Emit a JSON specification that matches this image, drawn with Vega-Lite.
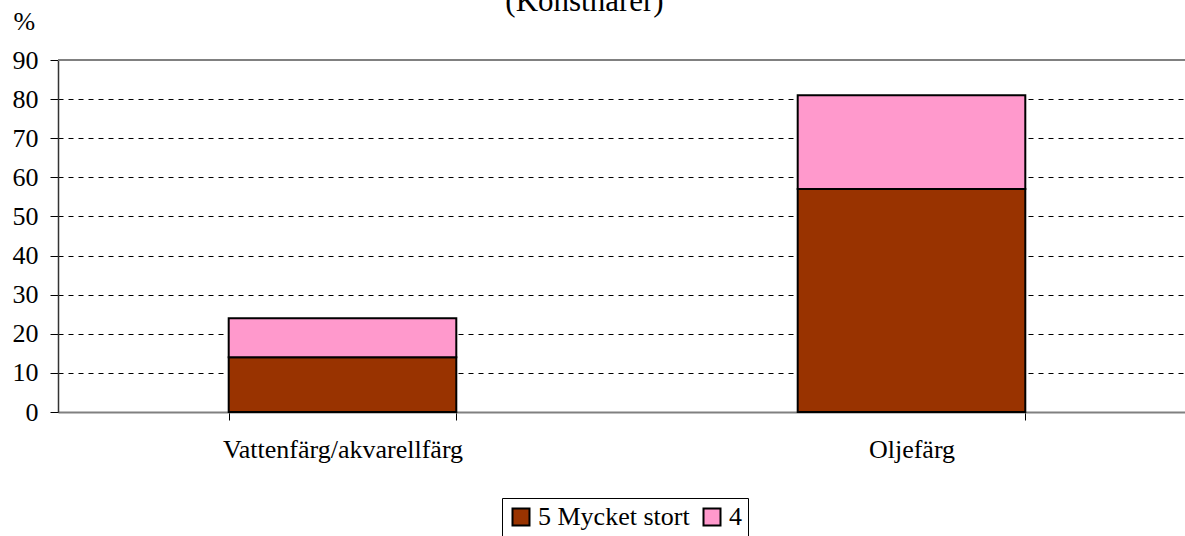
{
  "$schema": "https://vega.github.io/schema/vega-lite/v6.json",
  "autosize": {"type": "none"},
  "width": 1127,
  "height": 352,
  "padding": {"left": 58, "top": 60, "right": 0, "bottom": 124},
  "background": "white",
  "title": {
    "text": "(Konstnärer)",
    "font": "Liberation Serif",
    "fontSize": 31,
    "fontWeight": "normal",
    "color": "black",
    "anchor": "middle",
    "baseline": "alphabetic",
    "offset": 0,
    "dx": -37,
    "dy": 34
  },
  "config": {"view": {"stroke": null}, "font": "Liberation Serif"},
  "data": {
    "values": [
      {"category": "Vattenfärg/akvarellfärg", "series": "5 Mycket stort", "rank": 1, "value": 14},
      {"category": "Vattenfärg/akvarellfärg", "series": "4", "rank": 2, "value": 10},
      {"category": "Oljefärg", "series": "5 Mycket stort", "rank": 1, "value": 57},
      {"category": "Oljefärg", "series": "4", "rank": 2, "value": 24}
    ]
  },
  "layer": [
    {
      "mark": {"type": "bar", "stroke": "black", "strokeWidth": 2},
      "encoding": {
        "x": {
          "field": "category",
          "type": "nominal",
          "sort": ["Vattenfärg/akvarellfärg", "Oljefärg"],
          "scale": {"range": [0, 1138], "paddingInner": 0.6, "paddingOuter": 0.3},
          "axis": {
            "title": null,
            "labelAngle": 0,
            "labelFontSize": 26,
            "labelColor": "black",
            "labelFont": "Liberation Serif",
            "labelOverlap": false,
            "labelLimit": 0,
            "domainColor": "#808080",
            "domainWidth": 2,
            "tickBand": "extent",
            "tickSize": 8,
            "tickColor": "black",
            "labelPadding": 16,
            "grid": false
          }
        },
        "y": {
          "field": "value",
          "type": "quantitative",
          "stack": "zero",
          "scale": {"domain": [0, 90], "nice": false},
          "axis": {
            "title": "%",
            "titleAngle": 0,
            "titleX": -45,
            "titleY": -31,
            "titleAlign": "left",
            "titleBaseline": "alphabetic",
            "titleFontSize": 26,
            "titleFontWeight": "normal",
            "titleFont": "Liberation Serif",
            "titleColor": "black",
            "values": [0, 10, 20, 30, 40, 50, 60, 70, 80, 90],
            "tickCount": 10,
            "labelOverlap": false,
            "grid": true,
            "gridDash": [5, 5],
            "gridColor": "black",
            "gridWidth": 1,
            "domainColor": "#333333",
            "domainWidth": 1.5,
            "tickColor": "black",
            "tickSize": 8,
            "labelPadding": 12,
            "labelFontSize": 26,
            "labelColor": "black",
            "labelFont": "Liberation Serif"
          }
        },
        "color": {
          "field": "series",
          "type": "nominal",
          "scale": {"domain": ["5 Mycket stort", "4"], "range": ["#993300", "#FF99CC"]},
          "legend": {
            "orient": "none",
            "legendX": 444,
            "legendY": 438,
            "direction": "horizontal",
            "title": null,
            "symbolType": "square",
            "symbolSize": 289,
            "symbolStrokeColor": "black",
            "symbolStrokeWidth": 2,
            "labelFontSize": 26,
            "labelColor": "black",
            "labelFont": "Liberation Serif",
            "labelLimit": 0,
            "labelOffset": 4,
            "strokeColor": "black",
            "padding": 6,
            "columnPadding": 9
          }
        },
        "order": {"field": "rank", "type": "quantitative"}
      }
    },
    {
      "mark": {"type": "rule", "color": "#808080", "strokeWidth": 2},
      "encoding": {
        "y": {
          "datum": 90,
          "type": "quantitative",
          "axis": {
            "title": "%",
            "titleAngle": 0,
            "titleX": -45,
            "titleY": -31,
            "titleAlign": "left",
            "titleBaseline": "alphabetic",
            "titleFontSize": 26,
            "titleFontWeight": "normal",
            "titleFont": "Liberation Serif",
            "titleColor": "black",
            "values": [0, 10, 20, 30, 40, 50, 60, 70, 80, 90],
            "tickCount": 10,
            "labelOverlap": false,
            "grid": true,
            "gridDash": [5, 5],
            "gridColor": "black",
            "gridWidth": 1,
            "domainColor": "#333333",
            "domainWidth": 1.5,
            "tickColor": "black",
            "tickSize": 8,
            "labelPadding": 12,
            "labelFontSize": 26,
            "labelColor": "black",
            "labelFont": "Liberation Serif"
          }
        }
      }
    }
  ]
}
